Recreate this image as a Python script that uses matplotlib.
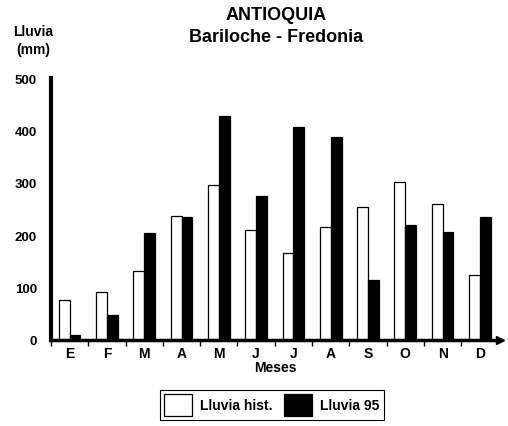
import matplotlib.pyplot as plt
import numpy as np

plt.rcParams['font.family'] = ['Liberation Sans', 'DejaVu Sans']
plt.rcParams['font.weight'] = 'bold'

meses = ["E", "F", "M", "A", "M", "J", "J", "A", "S", "O", "N", "D"]
lluvia_hist = [77, 92, 132, 237, 296, 209, 166, 216, 254, 302, 260, 124]
lluvia_95 = [10, 48, 205, 235, 428, 274, 406, 387, 115, 220, 207, 235]

fig = plt.figure(figsize=(5.08, 4.27), dpi=100)
ax = fig.add_axes([51 / 508, 1 - 341 / 427, 449 / 508, 262 / 427])

x = np.arange(len(meses))
w = 0.29
ax.bar(x - w / 2, lluvia_hist, w, color="white", edgecolor="black", linewidth=0.9, label="Lluvia hist.")
ax.bar(x + w / 2, lluvia_95, w, color="black", edgecolor="black", linewidth=0.9, label="Lluvia 95")

ax.set_xlim(-0.47, 11.54)
ax.set_ylim(0, 500)
ax.set_yticks([0, 100, 200, 300, 400, 500])
ax.tick_params(axis="y", length=0, labelsize=9.5, pad=10)
ax.set_xticks(x)
ax.set_xticklabels(meses, fontsize=10)
ax.tick_params(axis="x", length=0, pad=4)
ax.set_xticks(np.arange(-0.5, 11.5, 1), minor=True)
ax.tick_params(axis="x", which="minor", length=4, width=1, direction="out")

for s in ["top", "right"]:
    ax.spines[s].set_visible(False)
ax.spines["left"].set_linewidth(3)
ax.spines["bottom"].set_linewidth(2.5)
ax.plot([1], [0], marker=">", color="black", markersize=6, transform=ax.transAxes, clip_on=False)

ax.set_xlabel("Meses", fontsize=10, fontweight="bold", labelpad=0)

fig.text(33 / 508, 1 - 32 / 427, "Lluvia", ha="center", va="center", fontsize=10)
fig.text(33 / 508, 1 - 50 / 427, "(mm)", ha="center", va="center", fontsize=10)
fig.text(276 / 508, 1 - 15 / 427, "ANTIOQUIA", ha="center", va="center", fontsize=13)
fig.text(276 / 508, 1 - 37 / 427, "Bariloche - Fredonia", ha="center", va="center", fontsize=13)

leg = fig.legend(loc="center", bbox_to_anchor=(272 / 508, 1 - 406 / 427), ncol=2,
                 fontsize=10, fancybox=False, edgecolor="black", framealpha=1,
                 handlelength=2.0, handleheight=2.1, columnspacing=0.8, handletextpad=0.6,
                 borderpad=0.3)
leg.get_frame().set_linewidth(0.8)

fig.savefig("out.png", dpi=100)
